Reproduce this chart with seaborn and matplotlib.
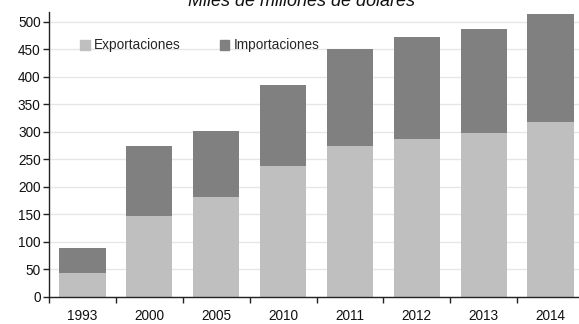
import matplotlib
matplotlib.use("Agg")
import matplotlib.pyplot as plt
import matplotlib.patches as mpatches
import seaborn as sns
import pandas as pd
import numpy as np

sns.set_theme(style="white")
plt.rcParams['font.family'] = ['Liberation Sans', 'DejaVu Sans']

years = ['1993', '2000', '2005', '2010', '2011', '2012', '2013', '2014']
exportaciones = [43, 147, 182, 238, 275, 287, 298, 318]
totales = [89, 275, 302, 385, 451, 473, 487, 515]
importaciones = [t - e for t, e in zip(totales, exportaciones)]

df = pd.DataFrame({'year': years, 'exp': exportaciones,
                   'imp': importaciones})
df['total'] = df['exp'] + df['imp']

c_exp = '#bfbfbf'
c_imp = '#808080'

W, H = 579, 324
fig = plt.figure(figsize=(W / 100, H / 100), dpi=100)
ax = fig.add_axes([49 / W, 27 / H, 535 / W, 285 / H])

sns.barplot(x='year', y='total', data=df, ax=ax, color=c_imp, width=0.69,
            saturation=1, order=years, linewidth=0, edgecolor='none')
sns.barplot(x='year', y='exp', data=df, ax=ax, color=c_exp, width=0.69,
            saturation=1, order=years, linewidth=0, edgecolor='none')

ax.set_xlim(-0.5, len(years) - 0.5)
ax.set_ylim(0, 518)
ax.set_yticks(np.arange(0, 501, 50))
ax.yaxis.grid(True, color='#e6e6e6', linewidth=1)
ax.set_axisbelow(True)
ax.set_xlabel('')
ax.set_ylabel('')

ax.set_xticks(np.arange(-0.5, len(years) - 0.5, 1), minor=True)
ax.tick_params(axis='x', which='major', length=0, pad=9, labelsize=9.8,
               labelcolor='#111111')
ax.tick_params(axis='x', which='minor', length=4, width=1, color='#222222',
               direction='out', bottom=True)
ax.tick_params(axis='y', length=4, width=1, color='#222222', direction='out',
               left=True, labelsize=9.8, labelcolor='#111111', pad=2)

for side in ['top', 'right']:
    ax.spines[side].set_visible(False)
for side in ['left', 'bottom']:
    ax.spines[side].set_color('#222222')
    ax.spines[side].set_linewidth(1)

handles = [mpatches.Patch(color=c_exp, label='Exportaciones'),
           mpatches.Patch(color=c_imp, label='Importaciones')]
ax.legend(handles=handles, ncol=2, frameon=False, fontsize=9.8,
          loc='upper left', bbox_to_anchor=(0.035, 0.95),
          handlelength=0.7, handleheight=0.7, handletextpad=0.3,
          columnspacing=2.9)

fig.text(302 / W, 1 - 6 / H, 'Miles de millones de dólares', ha='center',
         va='baseline', fontsize=13, style='italic', color='#111111')

fig.savefig('out.png', dpi=100)
